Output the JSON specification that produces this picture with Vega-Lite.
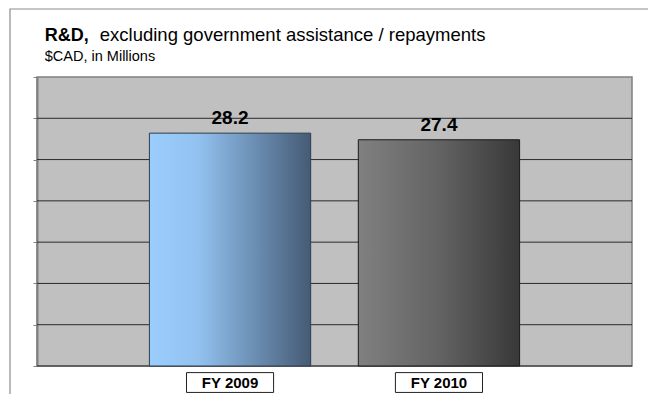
{
  "$schema": "https://vega.github.io/schema/vega-lite/v6.json",
  "width": 595,
  "height": 289,
  "autosize": {"type": "none"},
  "padding": {"left": 37, "top": 77, "right": 16, "bottom": 28},
  "background": "white",
  "config": {
    "view": {"fill": "#C0C0C0", "stroke": "#808080", "strokeWidth": 1.5},
    "font": "Liberation Sans"
  },
  "data": {"values": [
    {"year": "FY 2009", "value": 28.2},
    {"year": "FY 2010", "value": 27.4}
  ]},
  "resolve": {"scale": {"x": "independent", "y": "independent"}, "axis": {"x": "independent", "y": "independent"}},
  "layer": [
    {
      "layer": [
        {
          "data": {"values": [{"g": 0}, {"g": 5}, {"g": 10}, {"g": 15}, {"g": 20}, {"g": 25}, {"g": 30}]},
          "mark": {"type": "rule", "color": "#2a2a2a", "strokeWidth": 1},
          "encoding": {
            "y": {"field": "g", "type": "quantitative", "scale": {"domain": [0, 35], "nice": false},
              "axis": {"orient": "left", "values": [0, 5, 10, 15, 20, 25, 30, 35], "labels": false, "title": null, "grid": false, "domainColor": "#808080", "domainWidth": 2, "tickColor": "#808080", "tickSize": 4, "tickWidth": 1}}
          }
        },
        {
          "encoding": {
            "x": {"field": "year", "type": "nominal", "scale": {"domain": ["FY 2009", "FY 2010"], "paddingInner": 0.228, "paddingOuter": 0.538}, "axis": null}
          },
          "layer": [
            {
              "transform": [{"filter": "datum.year === 'FY 2009'"}],
              "mark": {"type": "bar", "stroke": "#2E3D4F", "strokeWidth": 1,
                "fill": {"gradient": "linear", "x1": 0, "y1": 0, "x2": 1, "y2": 0,
                  "stops": [{"offset": 0, "color": "#9ACDFD"}, {"offset": 0.3, "color": "#93C2F0"}, {"offset": 0.6, "color": "#7196BC"}, {"offset": 1, "color": "#455B75"}]}},
              "encoding": {
                "y": {"field": "value", "type": "quantitative"}
              }
            },
            {
              "transform": [{"filter": "datum.year === 'FY 2010'"}],
              "mark": {"type": "bar", "stroke": "#1A1A1A", "strokeWidth": 1,
                "fill": {"gradient": "linear", "x1": 0, "y1": 0, "x2": 1, "y2": 0,
                  "stops": [{"offset": 0, "color": "#808080"}, {"offset": 0.5, "color": "#636363"}, {"offset": 1, "color": "#383838"}]}},
              "encoding": {
                "y": {"field": "value", "type": "quantitative"}
              }
            },
            {
              "mark": {"type": "text", "dy": -9, "baseline": "alphabetic", "align": "center", "fontSize": 19, "fontWeight": "bold", "color": "black"},
              "encoding": {
                "y": {"field": "value", "type": "quantitative"},
                "text": {"field": "value", "type": "quantitative", "format": ".1f"}
              }
            },
            {
              "mark": {"type": "bar", "fill": "white", "stroke": "#222222", "strokeWidth": 1, "width": {"band": 0.54}},
              "encoding": {
                "y": {"datum": -0.8, "type": "quantitative"},
                "y2": {"datum": -3.2}
              }
            },
            {
              "mark": {"type": "text", "baseline": "middle", "align": "center", "fontSize": 15, "fontWeight": "bold", "color": "black"},
              "encoding": {
                "y": {"datum": -2.0, "type": "quantitative"},
                "text": {"field": "year"}
              }
            }
          ]
        }
      ]
    },
    {
      "data": {"values": [{"head": "R&D,", "label": "excluding government assistance / repayments", "sub": "$CAD, in Millions"}]},
      "layer": [
        {
          "mark": {"type": "rect", "fill": null, "stroke": "#8c8c8c", "strokeWidth": 1.2},
          "encoding": {
            "x": {"datum": -0.0454, "type": "quantitative", "scale": {"domain": [0, 1], "nice": false, "zero": false}, "axis": null},
            "x2": {"datum": 1.05},
            "y": {"datum": 1.2353, "type": "quantitative", "scale": {"domain": [0, 1], "nice": false, "zero": false}, "axis": null},
            "y2": {"datum": -0.12}
          }
        },
        {
          "mark": {"type": "text", "align": "left", "baseline": "alphabetic", "fontSize": 18, "fontWeight": "bold", "font": "Liberation Sans", "color": "black"},
          "encoding": {
            "x": {"datum": 0.0131, "type": "quantitative"},
            "y": {"datum": 1.1246, "type": "quantitative"},
            "text": {"field": "head"}
          }
        },
        {
          "mark": {"type": "text", "align": "left", "baseline": "alphabetic", "fontSize": 18.5, "font": "Liberation Sans", "color": "black"},
          "encoding": {
            "x": {"datum": 0.1055, "type": "quantitative"},
            "y": {"datum": 1.1246, "type": "quantitative"},
            "text": {"field": "label"}
          }
        },
        {
          "mark": {"type": "text", "align": "left", "baseline": "alphabetic", "fontSize": 14.5, "font": "Liberation Sans", "color": "black"},
          "encoding": {
            "x": {"datum": 0.0131, "type": "quantitative"},
            "y": {"datum": 1.0564, "type": "quantitative"},
            "text": {"field": "sub"}
          }
        }
      ]
    }
  ]
}
